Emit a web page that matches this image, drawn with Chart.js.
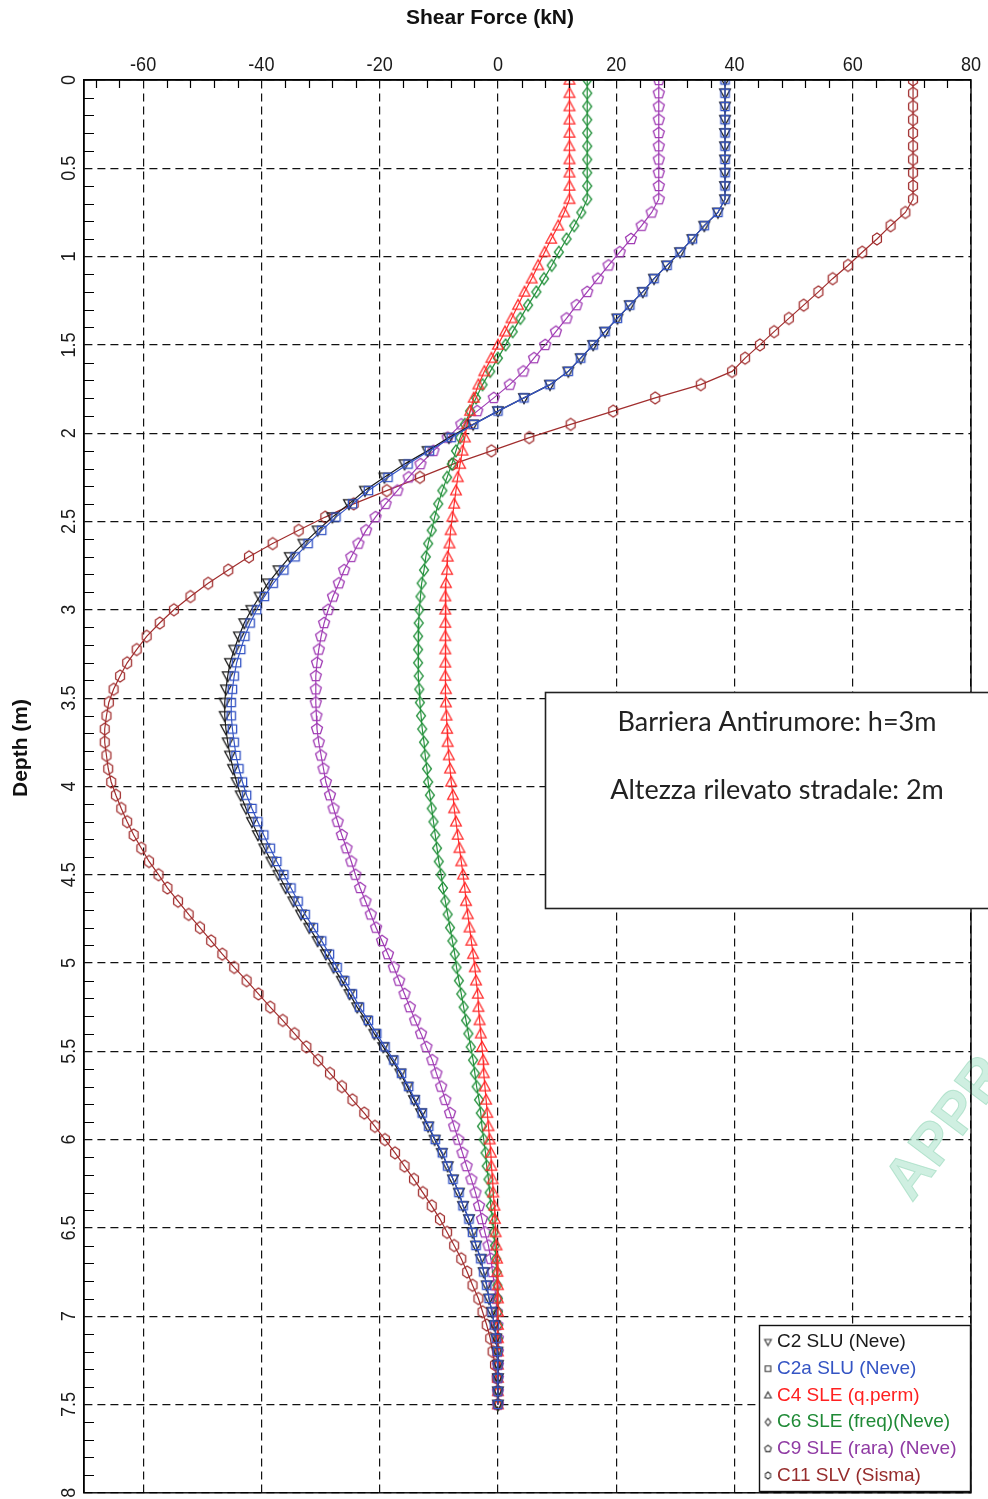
<!DOCTYPE html>
<html>
<head>
<meta charset="utf-8">
<title>Shear Force vs Depth</title>
<script src="https://cdn.jsdelivr.net/npm/chart.js@4.4.1/dist/chart.umd.min.js"></script>
<style>
  html, body { margin: 0; padding: 0; background: #fff; }
  #wrap { width: 988px; height: 1499px; position: relative; overflow: hidden; }
  canvas { display: block; }
</style>
</head>
<body>
<div id="wrap"><canvas id="chart" width="988" height="1499"></canvas></div>
<script>
// Depth of the output stations along the pile (m)
const depth = [
  0, 0.075, 0.15, 0.225, 0.3, 0.375, 0.45, 0.525, 0.6, 0.675,
  0.75, 0.825, 0.9, 0.975, 1.05, 1.125, 1.2, 1.275, 1.35, 1.425,
  1.5, 1.575, 1.65, 1.725, 1.8, 1.875, 1.95, 2.025, 2.1, 2.175,
  2.25, 2.325, 2.4, 2.475, 2.55, 2.625, 2.7, 2.775, 2.85, 2.925,
  3, 3.075, 3.15, 3.225, 3.3, 3.375, 3.45, 3.525, 3.6, 3.675,
  3.75, 3.825, 3.9, 3.975, 4.05, 4.125, 4.2, 4.275, 4.35, 4.425,
  4.5, 4.575, 4.65, 4.725, 4.8, 4.875, 4.95, 5.025, 5.1, 5.175,
  5.25, 5.325, 5.4, 5.475, 5.55, 5.625, 5.7, 5.775, 5.85, 5.925,
  6, 6.075, 6.15, 6.225, 6.3, 6.375, 6.45, 6.525, 6.6, 6.675,
  6.75, 6.825, 6.9, 6.975, 7.05, 7.125, 7.2, 7.275, 7.35, 7.425,
  7.5
];

// Shear force (kN) for each load combination, one value per station
const shearC2 = [
  38.4, 38.4, 38.4, 38.4, 38.4, 38.4, 38.4, 38.4, 38.4, 38.4,
  37.2, 34.9, 32.9, 30.8, 28.6, 26.4, 24.5, 22.3, 20.2, 18.1,
  16.1, 14.0, 11.9, 8.8, 4.4, 0.0, -4.2, -8.3, -11.9, -15.8,
  -19.2, -22.5, -25.2, -28.0, -30.5, -32.9, -35.2, -37.1, -38.9, -40.3,
  -41.7, -42.9, -43.8, -44.6, -45.3, -45.7, -46.0, -46.2, -46.2, -46.0,
  -45.7, -45.3, -44.8, -44.2, -43.5, -42.6, -41.6, -40.6, -39.5, -38.3,
  -37.1, -35.9, -34.6, -33.3, -31.9, -30.5, -29.1, -27.8, -26.4, -25.1,
  -23.8, -22.3, -20.9, -19.4, -17.9, -16.5, -15.3, -14.2, -13.0, -11.8,
  -10.7, -9.5, -8.5, -7.6, -6.6, -5.9, -4.9, -4.3, -3.7, -2.9,
  -2.4, -1.9, -1.5, -1.0, -0.6, -0.3, -0.1, 0, 0, 0,
  0
];
const shearC2a = [
  38.4, 38.4, 38.4, 38.4, 38.4, 38.4, 38.4, 38.4, 38.4, 38.4,
  37.2, 34.9, 32.9, 30.8, 28.6, 26.4, 24.5, 22.3, 20.2, 18.1,
  16.1, 14.0, 11.9, 8.8, 4.4, 0.0, -4.1, -7.9, -11.6, -15.2,
  -18.6, -21.9, -24.6, -27.4, -29.8, -32.1, -34.3, -36.2, -38.0, -39.5,
  -40.8, -41.9, -42.8, -43.5, -44.2, -44.6, -44.9, -45.1, -45.1, -44.9,
  -44.6, -44.3, -43.8, -43.2, -42.5, -41.6, -40.6, -39.6, -38.5, -37.4,
  -36.2, -35.0, -33.8, -32.6, -31.2, -29.8, -28.5, -27.2, -25.9, -24.6,
  -23.4, -21.9, -20.5, -19.1, -17.6, -16.3, -15.1, -14.0, -12.8, -11.7,
  -10.6, -9.4, -8.5, -7.6, -6.6, -5.9, -4.9, -4.3, -3.7, -2.9,
  -2.4, -1.9, -1.5, -1.0, -0.6, -0.3, -0.1, 0, 0, 0,
  0
];
const shearC4 = [
  12.1, 12.1, 12.1, 12.1, 12.1, 12.1, 12.1, 12.1, 12.1, 12.1,
  11.2, 10.2, 9.0, 7.9, 6.8, 5.7, 4.5, 3.4, 2.3, 1.2,
  0.0, -1.1, -2.3, -3.3, -4.1, -4.7, -5.2, -5.6, -6.0, -6.4,
  -6.8, -7.1, -7.4, -7.7, -8.0, -8.2, -8.5, -8.6, -8.8, -8.9,
  -8.9, -8.9, -8.9, -8.9, -8.9, -8.9, -8.8, -8.8, -8.7, -8.6,
  -8.5, -8.3, -8.1, -7.9, -7.6, -7.4, -7.1, -6.8, -6.5, -6.2,
  -5.9, -5.6, -5.4, -5.1, -4.8, -4.5, -4.2, -3.9, -3.7, -3.4,
  -3.3, -3.1, -2.9, -2.7, -2.5, -2.4, -2.2, -2.0, -1.8, -1.6,
  -1.4, -1.2, -1.1, -0.9, -0.8, -0.6, -0.5, -0.4, -0.25, -0.15,
  -0.1, 0, 0, 0, 0, 0, 0, 0, 0, 0,
  0
];
const shearC6 = [
  15.1, 15.1, 15.1, 15.1, 15.1, 15.1, 15.1, 15.1, 15.1, 15.1,
  14.1, 12.9, 11.6, 10.3, 9.1, 7.8, 6.5, 5.1, 3.8, 2.5,
  1.3, 0.0, -1.3, -2.6, -3.7, -4.7, -5.6, -6.4, -7.1, -7.8,
  -8.6, -9.4, -10.1, -10.7, -11.2, -11.8, -12.2, -12.5, -12.9, -13.1,
  -13.3, -13.4, -13.5, -13.5, -13.5, -13.4, -13.3, -13.2, -13.0, -12.8,
  -12.5, -12.3, -12.0, -11.8, -11.5, -11.2, -10.9, -10.6, -10.3, -10.0,
  -9.6, -9.3, -8.9, -8.5, -8.1, -7.7, -7.3, -7.0, -6.6, -6.2,
  -5.8, -5.4, -5.0, -4.6, -4.2, -3.9, -3.6, -3.2, -2.9, -2.7,
  -2.4, -2.1, -1.9, -1.6, -1.4, -1.2, -0.9, -0.7, -0.5, -0.3,
  -0.2, -0.1, 0, 0, 0, 0, 0, 0, 0, 0,
  0
];
const shearC9 = [
  27.2, 27.2, 27.2, 27.2, 27.2, 27.2, 27.2, 27.2, 27.2, 27.2,
  26.0, 24.3, 22.5, 20.6, 18.7, 16.9, 15.1, 13.3, 11.6, 9.8,
  8.0, 6.1, 4.3, 2.0, -0.7, -3.5, -6.2, -8.5, -10.9, -13.1,
  -15.1, -17.0, -19.0, -20.7, -22.3, -23.6, -24.8, -26.0, -26.9, -27.9,
  -28.7, -29.4, -29.9, -30.3, -30.6, -30.8, -30.8, -30.8, -30.7, -30.6,
  -30.3, -29.9, -29.5, -29.1, -28.4, -27.8, -27.1, -26.4, -25.6, -24.8,
  -24.1, -23.3, -22.4, -21.5, -20.6, -19.6, -18.6, -17.6, -16.7, -15.8,
  -14.9, -14.0, -13.0, -12.1, -11.1, -10.4, -9.6, -8.9, -8.1, -7.4,
  -6.7, -6.0, -5.3, -4.5, -3.8, -3.2, -2.7, -2.2, -1.6, -1.2,
  -0.9, -0.6, -0.3, -0.2, -0.1, 0, 0, 0, 0, 0,
  0
];
const shearC11 = [
  70.2, 70.2, 70.2, 70.2, 70.2, 70.2, 70.2, 70.2, 70.2, 70.2,
  68.9, 66.4, 64.1, 61.6, 59.2, 56.6, 54.2, 51.7, 49.2, 46.7,
  44.3, 41.8, 39.6, 34.3, 26.6, 19.5, 12.3, 5.3, -1.1, -7.6,
  -13.2, -18.8, -24.4, -29.2, -33.7, -38.1, -42.1, -45.6, -49.0, -52.0,
  -54.8, -57.2, -59.4, -61.1, -62.7, -63.9, -65.0, -65.8, -66.2, -66.5,
  -66.5, -66.2, -65.9, -65.4, -64.6, -63.7, -62.7, -61.6, -60.3, -59.0,
  -57.4, -55.9, -54.1, -52.3, -50.4, -48.5, -46.6, -44.6, -42.5, -40.5,
  -38.5, -36.4, -34.4, -32.4, -30.4, -28.4, -26.4, -24.6, -22.6, -20.8,
  -19.1, -17.4, -15.8, -14.2, -12.7, -11.2, -9.8, -8.6, -7.4, -6.2,
  -5.2, -4.3, -3.3, -2.6, -1.9, -1.3, -0.9, -0.5, -0.2, -0.05,
  0
];

const seriesNames = [
  'C2 SLU (Neve)', 'C2a SLU (Neve)', 'C4 SLE (q.perm)',
  'C6 SLE (freq)(Neve)', 'C9 SLE (rara) (Neve)', 'C11 SLV (Sisma)'
];
const seriesValues = [shearC2, shearC2a, shearC4, shearC6, shearC9, shearC11];

// Axis ticks and labels
const xTickValues = [-60, -40, -20, 0, 20, 40, 60, 80];
const yTickValues = [0, 0.5, 1, 1.5, 2, 2.5, 3, 3.5, 4, 4.5, 5, 5.5, 6, 6.5, 7, 7.5, 8];
const xTitle = 'Shear Force (kN)';
const yTitle = 'Depth (m)';
const noteLines = ['Barriera Antirumore: h=3m', 'Altezza rilevato stradale: 2m'];
const stampText = 'APPR';

// ---- presentation ----
const lineColors = ['#1a1a1a', '#3454c4', '#ff2a2a', '#24913c', '#a03cb4', '#a12e2e'];
const textColors = ['#1a1a1a', '#3454c4', '#ff2020', '#1f8a36', '#8f3aa3', '#962c2c'];
const markerShapes = ['triDown', 'square', 'triUp', 'diamond', 'pentagon', 'hexagon'];
const markerSizes = [5.6, 5.2, 5.6, 5.6, 5.8, 6.0];
const drawOrder = [1, 0, 2, 3, 4, 5];
const FONT = "'Liberation Sans', Arial, Helvetica, sans-serif";

function makeMarker(shape, color, r, lw) {
  const s = Math.ceil(r * 2 + 4);
  const c = document.createElement('canvas');
  c.width = s; c.height = s;
  const g = c.getContext('2d');
  const m = s / 2;
  g.strokeStyle = color;
  g.lineWidth = lw;
  g.beginPath();
  if (shape === 'square') {
    g.rect(m - r * 0.8, m - r * 0.8, r * 1.6, r * 1.6);
  } else if (shape === 'triUp') {
    g.moveTo(m, m - r);
    g.lineTo(m + r * 0.95, m + r * 0.72);
    g.lineTo(m - r * 0.95, m + r * 0.72);
    g.closePath();
  } else if (shape === 'triDown') {
    g.moveTo(m, m + r);
    g.lineTo(m + r * 0.95, m - r * 0.72);
    g.lineTo(m - r * 0.95, m - r * 0.72);
    g.closePath();
  } else if (shape === 'diamond') {
    g.moveTo(m, m - r * 1.05);
    g.lineTo(m + r * 0.8, m);
    g.lineTo(m, m + r * 1.05);
    g.lineTo(m - r * 0.8, m);
    g.closePath();
  } else if (shape === 'pentagon') {
    for (let k = 0; k < 5; k++) {
      const a = -Math.PI / 2 + k * 2 * Math.PI / 5;
      const px = m + r * Math.cos(a), py = m + r * Math.sin(a);
      if (k === 0) g.moveTo(px, py); else g.lineTo(px, py);
    }
    g.closePath();
  } else if (shape === 'hexagon') {
    for (let k = 0; k < 6; k++) {
      const a = -Math.PI / 2 + k * Math.PI / 3;
      const px = m + r * 0.85 * Math.cos(a), py = m + r * 1.0 * Math.sin(a);
      if (k === 0) g.moveTo(px, py); else g.lineTo(px, py);
    }
    g.closePath();
  }
  g.stroke();
  return c;
}

const datasets = seriesValues.map((vals, i) => ({
  label: seriesNames[i],
  data: depth.map((d, k) => ({ x: vals[k], y: d })),
  showLine: true,
  borderColor: lineColors[i],
  backgroundColor: 'transparent',
  borderWidth: 1.2,
  pointStyle: makeMarker(markerShapes[i], lineColors[i], markerSizes[i], 1.3),
  pointRadius: 5,
  pointHoverRadius: 5,
  tension: 0,
  order: drawOrder[i]
}));

function drawText(ctx, txt, x, y, o) {
  ctx.save();
  ctx.translate(x, y);
  if (o.rot) ctx.rotate(o.rot);
  if (o.sx) ctx.scale(o.sx, 1);
  ctx.font = o.font;
  ctx.fillStyle = o.color || '#000';
  ctx.textAlign = o.align || 'center';
  ctx.textBaseline = o.base || 'alphabetic';
  ctx.fillText(txt, 0, 0);
  ctx.restore();
}

// Watermark stamp, drawn behind the curves
const stampPlugin = {
  id: 'stamp',
  beforeDatasetsDraw(chart) {
    const ctx = chart.ctx;
    ctx.save();
    ctx.translate(912, 1203);
    ctx.rotate(-53 * Math.PI / 180);
    ctx.font = 'bold 58px ' + FONT;
    ctx.fillStyle = 'rgba(175, 228, 205, 0.6)';
    ctx.strokeStyle = 'rgba(150, 215, 185, 0.6)';
    ctx.lineWidth = 1;
    ctx.textAlign = 'left';
    ctx.textBaseline = 'alphabetic';
    ctx.fillText(stampText, 0, 0);
    ctx.strokeText(stampText, 0, 0);
    ctx.restore();
  }
};

// Frame, inner minor ticks, tick labels, titles, note box and key
const decorPlugin = {
  id: 'decor',
  afterDraw(chart) {
    const ctx = chart.ctx;
    const a = chart.chartArea;
    const xs = chart.scales.x, ys = chart.scales.y;

    // inner minor ticks
    ctx.save();
    ctx.strokeStyle = '#000';
    ctx.lineWidth = 1.2;
    ctx.beginPath();
    for (let v = -68; v < 80; v += 4) {
      if (v % 20 === 0) continue;
      const px = Math.round(xs.getPixelForValue(v)) + 0.5;
      ctx.moveTo(px, a.top);
      ctx.lineTo(px, a.top + 8);
    }
    for (let k = 1; k < 80; k++) {
      if (k % 5 === 0) continue;
      const py = Math.round(ys.getPixelForValue(k / 10)) + 0.5;
      ctx.moveTo(a.left, py);
      ctx.lineTo(a.left + 10, py);
    }
    ctx.stroke();

    // frame
    ctx.lineWidth = 1.4;
    ctx.strokeRect(a.left, a.top, a.right - a.left, a.bottom - a.top);
    ctx.restore();

    // x tick labels along the top
    xTickValues.forEach(v => {
      drawText(ctx, String(v), xs.getPixelForValue(v), 71,
        { font: '21px ' + FONT, color: '#1a1a1a', sx: 0.86 });
    });
    // y tick labels, rotated
    yTickValues.forEach(v => {
      drawText(ctx, String(v), 75, ys.getPixelForValue(v),
        { font: '21px ' + FONT, color: '#1a1a1a', rot: -Math.PI / 2, sx: 0.86 });
    });

    // axis titles
    drawText(ctx, xTitle, 490, 24, { font: 'bold 21px ' + FONT, color: '#111' });
    drawText(ctx, yTitle, 27, 748, { font: 'bold 21px ' + FONT, color: '#111', rot: -Math.PI / 2 });

    // note box
    ctx.save();
    ctx.fillStyle = '#fff';
    ctx.fillRect(545, 692, 460, 217);
    ctx.strokeStyle = '#222';
    ctx.lineWidth = 1.6;
    ctx.strokeRect(545.5, 692.5, 460, 216);
    ctx.restore();
    drawText(ctx, noteLines[0], 777, 731, { font: '27px Lato, "Open Sans", sans-serif', color: '#222' });
    drawText(ctx, noteLines[1], 777, 799, { font: '27px Lato, "Open Sans", sans-serif', color: '#222' });

    // key
    ctx.save();
    ctx.fillStyle = '#fff';
    ctx.fillRect(759, 1325, 212, 167);
    ctx.strokeStyle = '#111';
    ctx.lineWidth = 1.4;
    ctx.strokeRect(759.5, 1325.5, 211, 166);
    ctx.restore();
    seriesNames.forEach((name, i) => {
      const cy = 1342 + i * 26.7;
      const mk = makeMarker(markerShapes[i], '#333', 3.5, 1.1);
      ctx.drawImage(mk, 768 - mk.width / 2, cy - mk.height / 2);
      drawText(ctx, name, 777, cy, { font: '19px ' + FONT, color: textColors[i], align: 'left', base: 'middle' });
    });
  }
};

new Chart(document.getElementById('chart'), {
  type: 'scatter',
  data: { datasets },
  options: {
    responsive: false,
    animation: false,
    devicePixelRatio: 1,
    layout: { padding: { left: 0, top: 0, right: 17, bottom: 6 } },
    plugins: {
      legend: { display: false },
      tooltip: { enabled: false },
      title: { display: false }
    },
    scales: {
      x: {
        type: 'linear',
        position: 'top',
        min: -70,
        max: 80,
        afterBuildTicks: s => { s.ticks = xTickValues.map(v => ({ value: v })); },
        afterFit: s => { s.height = 80; },
        ticks: { display: false },
        grid: { color: '#111', lineWidth: 1.2, drawTicks: false },
        border: { display: true, color: '#000', width: 1.4, dash: [8, 5] }
      },
      y: {
        type: 'linear',
        position: 'left',
        reverse: true,
        min: 0,
        max: 8,
        afterBuildTicks: s => { s.ticks = yTickValues.map(v => ({ value: v })); },
        afterFit: s => { s.width = 84; },
        ticks: { display: false },
        grid: { color: '#111', lineWidth: 1.2, drawTicks: false },
        border: { display: true, color: '#000', width: 1.4, dash: [8, 5] }
      }
    }
  },
  plugins: [stampPlugin, decorPlugin]
});
</script>
</body>
</html>
